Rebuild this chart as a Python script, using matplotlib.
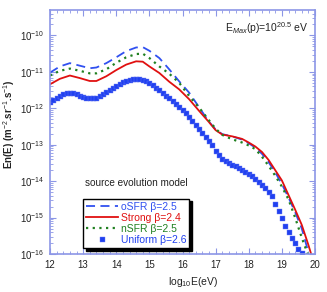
import numpy as np
import matplotlib
matplotlib.use("Agg")
import matplotlib.pyplot as plt
from matplotlib.ticker import MultipleLocator, FixedLocator, NullFormatter

plt.rcParams["font.family"] = ["Liberation Sans", "DejaVu Sans"]
plt.rcParams["mathtext.fontset"] = "custom"
plt.rcParams["mathtext.rm"] = "Liberation Sans"
plt.rcParams["mathtext.it"] = "Liberation Sans:italic"
plt.rcParams["mathtext.bf"] = "Liberation Sans:bold"

# log10(E) grid and log10 flux values
line_x = [12.0, 12.3, 12.6, 12.9, 13.2, 13.4, 13.7, 14.0, 14.3, 14.6, 14.8, 15.0,
          15.3, 15.6, 15.9, 16.2, 16.5, 16.8, 17.0, 17.2, 17.5, 17.8, 18.0, 18.2,
          18.4, 18.6, 18.8, 19.0, 19.2, 19.4, 19.6, 19.8]
osfr = [-11.02, -10.85, -10.76, -10.83, -10.90, -10.88, -10.76, -10.60, -10.43, -10.33,
        -10.32, -10.42, -10.62, -10.93, -11.26, -11.57, -11.97, -12.37, -12.58, -12.71,
        -12.77, -12.86, -12.96, -13.08, -13.25, -13.48, -13.76, -14.08, -14.45, -14.85,
        -15.30, -15.95]
strong = [-11.34, -11.19, -11.10, -11.17, -11.25, -11.25, -11.12, -10.95, -10.80, -10.71,
          -10.72, -10.85, -11.03, -11.27, -11.48, -11.75, -12.07, -12.38, -12.60, -12.72,
          -12.77, -12.84, -12.94, -13.05, -13.20, -13.42, -13.70, -13.98, -14.38, -14.78,
          -15.20, -15.75]
strong_end_x = [19.9]
strong_end = [-16.05]
nsfr = [-11.10, -10.97, -10.91, -10.97, -11.04, -11.04, -10.93, -10.75, -10.60, -10.51,
        -10.50, -10.62, -10.85, -11.05, -11.30, -11.66, -11.98, -12.33, -12.56, -12.73,
        -12.85, -12.94, -13.02, -13.12, -13.33, -13.58, -13.85, -14.15, -14.50, -15.00,
        -15.55, -16.05]

unif_x = np.round(np.arange(12.0, 19.65, 0.1), 1)
uniform = [-11.84, -11.78, -11.72, -11.66, -11.62, -11.59, -11.58, -11.59, -11.62, -11.65,
           -11.68, -11.71, -11.73, -11.73, -11.71, -11.67, -11.62, -11.56, -11.50, -11.44,
           -11.39, -11.34, -11.29, -11.25, -11.22, -11.20, -11.19, -11.19, -11.21, -11.24,
           -11.30, -11.37, -11.44, -11.51, -11.58, -11.66, -11.73, -11.81, -11.89, -11.96,
           -12.04, -12.13, -12.23, -12.34, -12.45, -12.56, -12.67, -12.79, -12.90, -13.02,
           -13.16, -13.28, -13.38, -13.45, -13.50, -13.55, -13.59, -13.64, -13.69, -13.74,
           -13.80, -13.87, -13.94, -14.02, -14.10, -14.19, -14.29, -14.42, -14.62, -14.81,
           -15.02, -15.22, -15.40, -15.55, -15.70, -15.87, -15.97]

y_decades = [-16, -15, -14, -13, -12, -11, -10]

frame_col = "#8c96e6"
c_osfr = "#3050f0"
c_strong = "#e01010"
c_nsfr = "#208020"
c_unif = "#2040f0"

fig = plt.figure(figsize=(3.27, 2.92), dpi=100)
ax = fig.add_axes([50 / 327, 1 - 254 / 292, 265 / 327, 244 / 292])

ax.plot(line_x, 10 ** np.array(osfr), ls=(0, (5, 3)), color=c_osfr, lw=1.3,
        label="oSFR β=2.5")
ax.plot(line_x + strong_end_x, 10 ** np.array(strong + strong_end), color=c_strong,
        lw=1.3, label="Strong β=2.4")
ax.plot(line_x, 10 ** np.array(nsfr), ls=(0, (1, 2)), color=c_nsfr, lw=1.6,
        label="nSFR β=2.5")
ax.plot(unif_x, 10 ** np.array(uniform), ls="none", marker="s", ms=3.6, mew=0.3,
        mec="#6a7cf4", color=c_unif, label="Uniform β=2.6")

ax.set_yscale("log")
ax.set_xlim(12, 20)
ax.set_ylim(1e-16, 5e-10)
ax.xaxis.set_major_locator(MultipleLocator(1))
ax.xaxis.set_minor_locator(MultipleLocator(0.2))
major_y = [10.0 ** d for d in y_decades]
minor_y = [m * 10.0 ** d for d in y_decades for m in range(2, 10) if m * 10.0 ** d < 5e-10]
ax.yaxis.set_major_locator(FixedLocator(major_y))
ax.yaxis.set_minor_locator(FixedLocator(minor_y))
ax.yaxis.set_minor_formatter(NullFormatter())

for s in ax.spines.values():
    s.set_color(frame_col)
    s.set_linewidth(1.2)
ax.tick_params(which="both", direction="in", top=True, right=True, color=frame_col,
               labelsize=7, labelcolor="#222222", pad=4)
ax.tick_params(which="major", length=4, width=0.8)
ax.tick_params(which="minor", length=2, width=0.6)

ax.set_xlabel("log$_{10}$E(eV)", fontsize=7.5, color="#222222")
ax.xaxis.set_label_coords(0.54, -0.085)
ax.set_ylabel("En(E) (m$^{-2}$.sr$^{-1}$.s$^{-1}$)", fontsize=7, fontweight="bold",
              color="#222222")
ax.yaxis.set_label_coords(-0.125, 0.53)

ax.text(0.975, 0.925, "E$_{Max}$(p)=10$^{20.5}$ eV", transform=ax.transAxes,
        ha="right", va="center", fontsize=7.5, color="#222222")

ax.text(0.325, 0.29, "source evolution model", transform=ax.transAxes,
        ha="center", va="center", fontsize=7.2, color="#222222")
leg = ax.legend(loc="lower left", bbox_to_anchor=(0.125, 0.025), fontsize=7.5,
                frameon=True, fancybox=False, edgecolor="black", framealpha=1,
                shadow={"color": "black", "alpha": 1, "ox": 2, "oy": -2},
                handlelength=3.0, handletextpad=0.3, labelspacing=0.1,
                borderpad=0.3, borderaxespad=0, labelcolor="linecolor")
leg.get_frame().set_linewidth(1.0)

fig.savefig("out.png", dpi=100)
